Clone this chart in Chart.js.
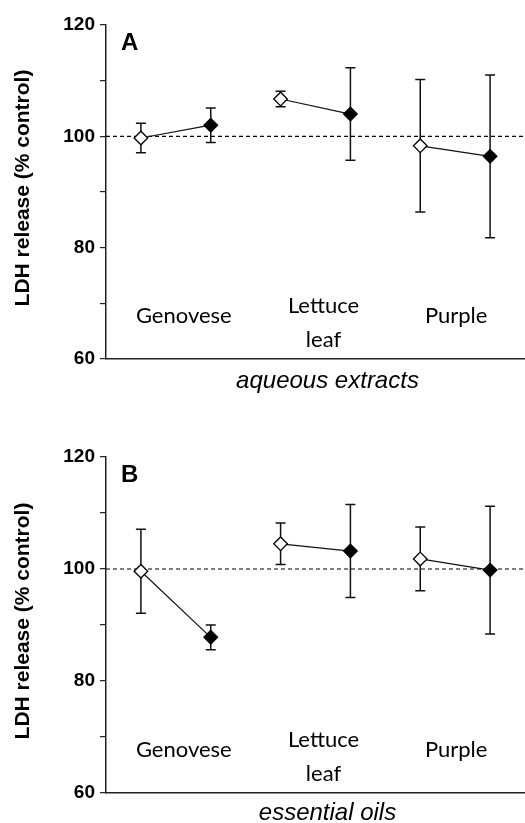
<!DOCTYPE html>
<html>
<head>
<meta charset="utf-8">
<script src="https://cdn.jsdelivr.net/npm/chart.js@4"></script>
<style>
  body { margin: 0; background: #fff; }
  canvas { display: block; }
</style>
</head>
<body>
<canvas id="chartA" width="525" height="400"></canvas>
<canvas id="chartB" width="525" height="423"></canvas>
<script>
// groups along the x axis (open diamond then filled diamond for each)
const categories = [['Genovese'], ['Lettuce', 'leaf'], ['Purple']];
const yTicks = [60, 80, 100, 120];
const panelLetters = ['A', 'B'];
const panelTitles = ['aqueous extracts', 'essential oils'];

// panel A - aqueous extracts
const openMeanA = [99.7, 106.7, 98.3];
const openErrA = [2.65, 1.4, 11.9];
const filledMeanA = [102.0, 104.0, 96.4];
const filledErrA = [3.1, 8.3, 14.6];

// panel B - essential oils
const openMeanB = [99.6, 104.5, 101.8];
const openErrB = [7.5, 3.7, 5.7];
const filledMeanB = [87.8, 103.2, 99.8];
const filledErrB = [2.2, 8.3, 11.4];

const refLine = 100;

Chart.defaults.animation = false;

function makeDatasets(openMean, openErr, filledMean, filledErr) {
  let sets = [];
  for (let i = 0; i < categories.length; i++) {
    sets.push({
      data: [
        { x: 2 * i + 1, y: openMean[i] },
        { x: 2 * i + 2, y: filledMean[i] }
      ],
      err: [openErr[i], filledErr[i]],
      borderColor: '#111',
      borderWidth: 1.2,
      pointStyle: 'rectRot',
      pointRadius: 6.8,
      pointHoverRadius: 6.8,
      pointBackgroundColor: ['#fff', '#000'],
      pointBorderColor: '#000',
      pointBorderWidth: 1.3
    });
  }
  return sets;
}

// dashed 100% line and error bars, under the markers
const underPlugin = {
  id: 'under',
  beforeDatasetsDraw(chart) {
    const ctx = chart.ctx;
    const ys = chart.scales.y;
    const area = chart.chartArea;
    ctx.save();
    ctx.strokeStyle = '#000';
    ctx.lineWidth = 1.2;
    ctx.setLineDash([4, 3]);
    const y100 = ys.getPixelForValue(refLine);
    ctx.beginPath();
    ctx.moveTo(area.left, y100);
    ctx.lineTo(area.right, y100);
    ctx.stroke();
    ctx.setLineDash([]);
    ctx.lineWidth = 1.5;
    ctx.strokeStyle = '#111';
    chart.data.datasets.forEach(function (ds, d) {
      const meta = chart.getDatasetMeta(d);
      ds.data.forEach(function (pt, j) {
        const x = meta.data[j].x;
        const top = ys.getPixelForValue(pt.y + ds.err[j]);
        const bot = ys.getPixelForValue(pt.y - ds.err[j]);
        ctx.beginPath();
        ctx.moveTo(x, top); ctx.lineTo(x, bot);
        ctx.moveTo(x - 5, top); ctx.lineTo(x + 5, top);
        ctx.moveTo(x - 5, bot); ctx.lineTo(x + 5, bot);
        ctx.stroke();
      });
    });
    ctx.restore();
  }
};

// texts: panel letter, group names, y title, x title
const textPlugin = {
  id: 'texts',
  afterDraw(chart, args, opts) {
    const ctx = chart.ctx;
    const xs = chart.scales.x;
    const area = chart.chartArea;
    ctx.save();
    ctx.fillStyle = '#000';

    ctx.font = 'bold 24px "Liberation Sans", Arial, sans-serif';
    ctx.textAlign = 'left';
    ctx.textBaseline = 'alphabetic';
    ctx.fillText(opts.letter, area.left + 15, area.top + 25);

    ctx.font = '22px Lato, "Open Sans", sans-serif';
    ctx.textAlign = 'center';
    const shift = [8, 8, 1];
    categories.forEach(function (lines, i) {
      const cx = xs.getPixelForValue(2 * i + 1.5) + shift[i];
      if (lines.length === 1) {
        ctx.fillText(lines[0], cx, area.bottom - 36.5);
      } else {
        ctx.fillText(lines[0], cx, area.bottom - 46);
        ctx.fillText(lines[1], cx, area.bottom - 12);
      }
    });

    ctx.font = 'italic 24px "Liberation Sans", Arial, sans-serif';
    ctx.fillText(opts.title, (area.left + area.right) / 2 + 12, area.bottom + opts.titleGap);

    ctx.translate(29, (area.top + area.bottom) / 2 - 4);
    ctx.rotate(-Math.PI / 2);
    ctx.font = 'bold 21px "Liberation Sans", Arial, sans-serif';
    ctx.fillText('LDH release (% control)', 0, 0);
    ctx.restore();
  }
};

function makePanel(id, k, datasets, topPad, xHeight, titleGap) {
  return new Chart(document.getElementById(id), {
    type: 'line',
    data: { datasets: datasets },
    options: {
      responsive: false,
      layout: { autoPadding: false, padding: { top: topPad, left: 0, right: 0, bottom: 0 } },
      plugins: {
        legend: { display: false },
        tooltip: { enabled: false },
        texts: { letter: panelLetters[k], title: panelTitles[k], titleGap: titleGap }
      },
      scales: {
        x: {
          type: 'linear',
          min: 0.5,
          max: 6.5,
          ticks: { display: false },
          grid: { display: false },
          border: { display: true, color: '#222', width: 1.5 },
          afterFit: function (scale) { scale.height = xHeight; }
        },
        y: {
          min: 60,
          max: 120,
          ticks: {
            stepSize: 10,
            padding: 5,
            color: '#000',
            font: { family: '"Liberation Sans", Arial, sans-serif', weight: 'bold', size: 19 },
            callback: function (v) { return yTicks.includes(v) ? v : ''; }
          },
          grid: { drawOnChartArea: false, drawTicks: true, tickLength: 6, color: '#222', lineWidth: 1.2 },
          border: { display: true, color: '#222', width: 1.5 },
          afterFit: function (scale) { scale.width = 106; }
        }
      }
    },
    plugins: [underPlugin, textPlugin]
  });
}

makePanel('chartA', 0, makeDatasets(openMeanA, openErrA, filledMeanA, filledErrA), 25, 41, 29);
makePanel('chartB', 1, makeDatasets(openMeanB, openErrB, filledMeanB, filledErrB), 57, 30, 27);
</script>
</body>
</html>
